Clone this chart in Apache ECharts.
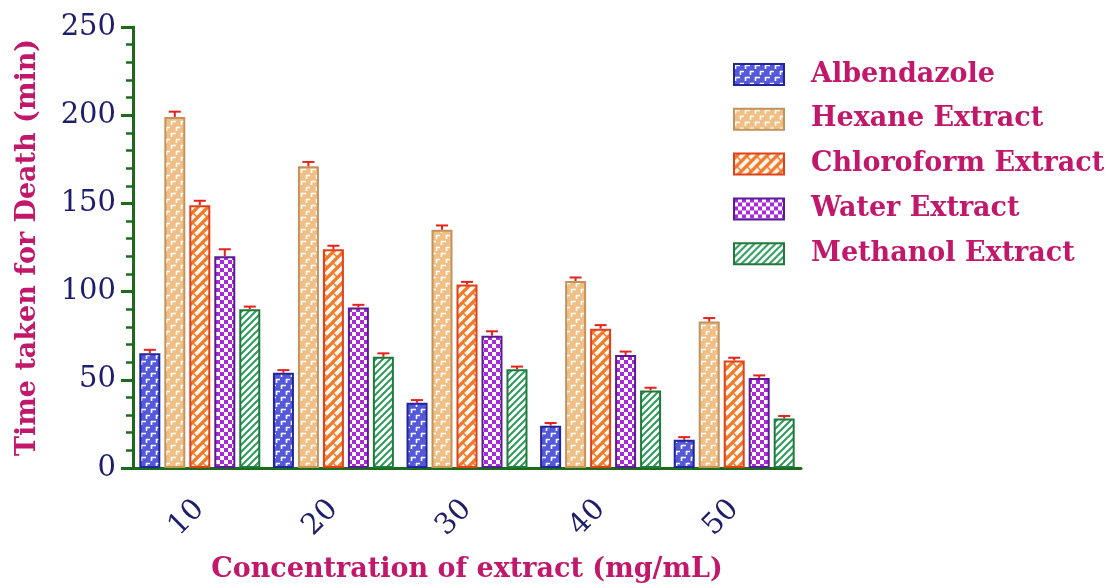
<!DOCTYPE html>
<html>
<head>
<meta charset="utf-8">
<script src="https://cdn.jsdelivr.net/npm/echarts@6/dist/echarts.min.js"></script>
<style>html,body{margin:0;padding:0;background:#fff}#chart{width:1119px;height:588px}</style>
</head>
<body>
<div id="chart"></div>
<script>
// ---- data ----
var categories = ['10', '20', '30', '40', '50'];
var seriesNames = ['Albendazole', 'Hexane Extract', 'Chloroform Extract', 'Water Extract', 'Methanol Extract'];
var albendazole = [65, 54, 37, 24, 16];
var hexane = [199, 171, 135, 106, 83];
var chloroform = [149, 124, 104, 79, 61];
var water = [120, 91, 75, 64, 51];
var methanol = [90, 63, 56, 44, 28];
var albendazoleErr = [2, 1.5, 1.5, 1.5, 1.5];
var hexaneErr = [3, 2.5, 2.5, 2, 2];
var chloroformErr = [2.5, 2, 1.5, 2, 1.5];
var waterErr = [4, 1.5, 2.5, 2, 1.5];
var methanolErr = [1.5, 2, 1.5, 1.5, 1.5];
var yTicks = [0, 50, 100, 150, 200, 250];

var values = [albendazole, hexane, chloroform, water, methanol];
var errors = [albendazoleErr, hexaneErr, chloroformErr, waterErr, methanolErr];

// ---- patterns ----
function mk(w, h, draw) {
  var c = document.createElement('canvas');
  c.width = w; c.height = h;
  var g = c.getContext('2d');
  draw(g, w, h);
  return { image: c, repeat: 'repeat' };
}
function brick(bg) {
  return mk(10, 12, function (g, w, h) {
    g.fillStyle = bg; g.fillRect(0, 0, w, h);
    g.strokeStyle = '#ffffff'; g.lineWidth = 1.6;
    g.beginPath();
    g.moveTo(1, 1.5); g.lineTo(6, 1.5); g.moveTo(1.5, 1); g.lineTo(1.5, 5);
    g.moveTo(6, 7.5); g.lineTo(10, 7.5); g.moveTo(6.5, 7); g.lineTo(6.5, 11);
    g.stroke();
  });
}
var patAlb = brick('#5459dc');
var patHex = brick('#f0bf86');
var patChl = mk(10, 10, function (g, w, h) {
  g.fillStyle = '#f07a2a'; g.fillRect(0, 0, w, h);
  g.strokeStyle = '#fff6ee'; g.lineWidth = 3.8;
  g.beginPath();
  g.moveTo(0, h); g.lineTo(w, 0);
  g.moveTo(-3, 3); g.lineTo(3, -3);
  g.moveTo(w - 3, h + 3); g.lineTo(w + 3, h - 3);
  g.stroke();
  g.strokeStyle = '#f07a2a'; g.lineWidth = 1.6;
  g.beginPath();
  g.moveTo(3, 3); g.lineTo(7, 7);
  g.stroke();
});
var patWat = mk(8, 8, function (g, w, h) {
  g.fillStyle = '#ffffff'; g.fillRect(0, 0, w, h);
  g.fillStyle = '#a82ad8';
  g.fillRect(0, 0, 4, 4); g.fillRect(4, 4, 4, 4);
});
var patMet = mk(7, 7, function (g, w, h) {
  g.fillStyle = '#ffffff'; g.fillRect(0, 0, w, h);
  g.strokeStyle = '#2e9a5c'; g.lineWidth = 2;
  g.beginPath();
  g.moveTo(0, h); g.lineTo(w, 0);
  g.moveTo(-2, 2); g.lineTo(2, -2);
  g.moveTo(w - 2, h + 2); g.lineTo(w + 2, h - 2);
  g.stroke();
});
var fills = [patAlb, patHex, patChl, patWat, patMet];
var borders = ['#22249a', '#c4935c', '#e0401a', '#5a1c92', '#1f7a3c'];

var BAR_W = 21, STEP = 25;
var series = [];
seriesNames.forEach(function (name, i) {
  series.push({
    name: name, type: 'bar', data: values[i], barWidth: BAR_W, barGap: '19%',
    itemStyle: { color: fills[i], borderColor: borders[i], borderWidth: 2 },
    z: 2
  });
});
seriesNames.forEach(function (name, i) {
  var d = values[i].map(function (v, k) { return [k, v, errors[i][k]]; });
  series.push({
    type: 'custom', name: name + ' err', data: d, z: 3,
    encode: { x: 0, y: 1 },
    renderItem: function (params, api) {
      var k = api.value(0), v = api.value(1), e = api.value(2);
      var off = (i - 2) * STEP;
      var p0 = api.coord([k, v]);
      var p1 = api.coord([k, v + e]);
      var x = p0[0] + off;
      var st = { stroke: '#e4231d', lineWidth: 2 };
      return {
        type: 'group', children: [
          { type: 'line', shape: { x1: x, y1: p0[1], x2: x, y2: p1[1] }, style: st },
          { type: 'line', shape: { x1: x - 6, y1: p1[1], x2: x + 6, y2: p1[1] }, style: st }
        ]
      };
    }
  });
});

var green = '#1c6b1c';
var navy = '#1d1d6b';
var crimson = '#c2186b';
var font = 'DejaVu Serif';

var chart = echarts.init(document.getElementById('chart'));
chart.setOption({
  animation: false,
  backgroundColor: '#ffffff',
  grid: { left: 133, right: 318, top: 27, bottom: 119, containLabel: false },
  legend: {
    data: seriesNames, orient: 'vertical', left: 733, top: 61, padding: 0,
    itemWidth: 50, itemHeight: 21, itemGap: 17.8, icon: 'rect',
    textStyle: { color: crimson, fontFamily: font, fontWeight: 'bold', fontSize: 27, padding: [0, 0, 0, 22] }
  },
  xAxis: {
    type: 'category', data: categories,
    axisLine: { lineStyle: { color: green, width: 3 } },
    axisTick: { alignWithLabel: true, length: 13, lineStyle: { color: green, width: 3 } },
    axisLabel: { rotate: 45, margin: 37, color: navy, fontFamily: font, fontSize: 29 },
    name: 'Concentration of extract (mg/mL)', nameLocation: 'middle', nameGap: 88,
    nameTextStyle: { color: crimson, fontFamily: font, fontWeight: 'bold', fontSize: 27 }
  },
  yAxis: {
    type: 'value', min: 0, max: 250, interval: 50,
    axisLine: { show: true, lineStyle: { color: green, width: 3 } },
    axisTick: { show: true, length: 12, lineStyle: { color: green, width: 3 } },
    minorTick: { show: true, splitNumber: 5, length: 7, lineStyle: { color: green, width: 2.5 } },
    splitLine: { show: false },
    axisLabel: {
      margin: 17, color: navy, fontFamily: font, fontSize: 29,
      formatter: function (v) { return yTicks.indexOf(v) >= 0 ? String(v) : ''; }
    },
    name: 'Time taken for Death (min)', nameLocation: 'middle', nameGap: 92,
    nameTextStyle: { color: crimson, fontFamily: font, fontWeight: 'bold', fontSize: 27 }
  },
  series: series
});
</script>
</body>
</html>
